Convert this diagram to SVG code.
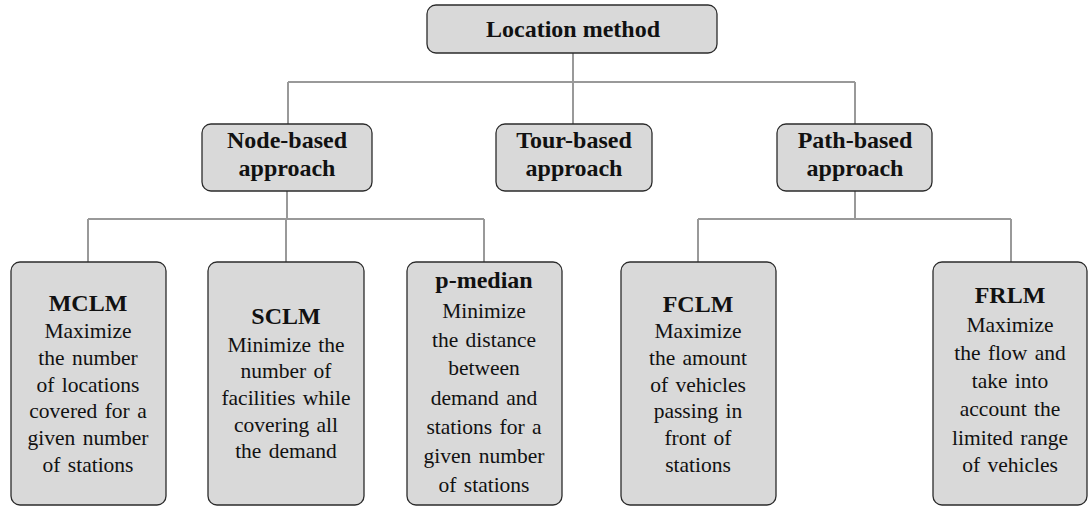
<svg xmlns="http://www.w3.org/2000/svg" width="1092" height="507" viewBox="0 0 1092 507">
<style>
.box{fill:#d9d9d9;stroke:#2b2b2b;stroke-width:1.3}
.h{font-family:"Liberation Serif","Times New Roman",serif;font-weight:bold;font-size:24px;fill:#111;text-anchor:middle}
.b{font-family:"Liberation Serif","Times New Roman",serif;font-size:21.5px;fill:#111;text-anchor:middle;word-spacing:2px}
.c{fill:none;stroke:#999;stroke-width:2}
</style>
<rect width="1092" height="507" fill="#fff"/>
<g id="connectors">
<path class="c" d="M573 53V82M288 82H855M288 82V124M573 82V124M855 82V124"/>
<path class="c" d="M287 191V219M88 219H484M88 219V262M286 219V262M484 219V262"/>
<path class="c" d="M855 191V219M698 219H1011M698 219V262M1011 219V262"/>
</g>
<g id="location-method">
<rect class="box" x="427" y="5" width="290" height="48" rx="9"/>
<text class="h" x="573" y="37">Location method</text>
</g>
<g id="node-based">
<rect class="box" x="202" y="124" width="170" height="67" rx="9"/>
<text class="h" x="287" y="148">Node-based</text>
<text class="h" x="287" y="176">approach</text>
</g>
<g id="tour-based">
<rect class="box" x="496" y="124" width="156" height="67" rx="9"/>
<text class="h" x="574" y="148">Tour-based</text>
<text class="h" x="574" y="176">approach</text>
</g>
<g id="path-based">
<rect class="box" x="777" y="124" width="155" height="67" rx="9"/>
<text class="h" x="855" y="148">Path-based</text>
<text class="h" x="855" y="176">approach</text>
</g>
<g id="mclm">
<rect class="box" x="11" y="262" width="155" height="243" rx="9"/>
<text class="h" x="88" y="311">MCLM</text>
<text class="b" x="88" y="338">Maximize</text>
<text class="b" x="88" y="365">the number</text>
<text class="b" x="88" y="392">of locations</text>
<text class="b" x="88" y="418">covered for a</text>
<text class="b" x="88" y="445">given number</text>
<text class="b" x="88" y="472">of stations</text>
</g>
<g id="sclm">
<rect class="box" x="208" y="262" width="156" height="243" rx="9"/>
<text class="h" x="286" y="324">SCLM</text>
<text class="b" x="286" y="352">Minimize the</text>
<text class="b" x="286" y="378">number of</text>
<text class="b" x="286" y="405">facilities while</text>
<text class="b" x="286" y="432">covering all</text>
<text class="b" x="286" y="458">the demand</text>
</g>
<g id="p-median">
<rect class="box" x="407" y="262" width="155" height="243" rx="9"/>
<text class="h" x="484" y="288">p-median</text>
<text class="b" x="484" y="318">Minimize</text>
<text class="b" x="484" y="347">the distance</text>
<text class="b" x="484" y="375">between</text>
<text class="b" x="484" y="405">demand and</text>
<text class="b" x="484" y="434">stations for a</text>
<text class="b" x="484" y="463">given number</text>
<text class="b" x="484" y="492">of stations</text>
</g>
<g id="fclm">
<rect class="box" x="621" y="262" width="155" height="243" rx="9"/>
<text class="h" x="698" y="312">FCLM</text>
<text class="b" x="698" y="338">Maximize</text>
<text class="b" x="698" y="365">the amount</text>
<text class="b" x="698" y="392">of vehicles</text>
<text class="b" x="698" y="418">passing in</text>
<text class="b" x="698" y="445">front of</text>
<text class="b" x="698" y="472">stations</text>
</g>
<g id="frlm">
<rect class="box" x="933" y="262" width="154" height="243" rx="9"/>
<text class="h" x="1010" y="303">FRLM</text>
<text class="b" x="1010" y="332">Maximize</text>
<text class="b" x="1010" y="360">the flow and</text>
<text class="b" x="1010" y="388">take into</text>
<text class="b" x="1010" y="416">account the</text>
<text class="b" x="1010" y="445">limited range</text>
<text class="b" x="1010" y="472">of vehicles</text>
</g>
</svg>
